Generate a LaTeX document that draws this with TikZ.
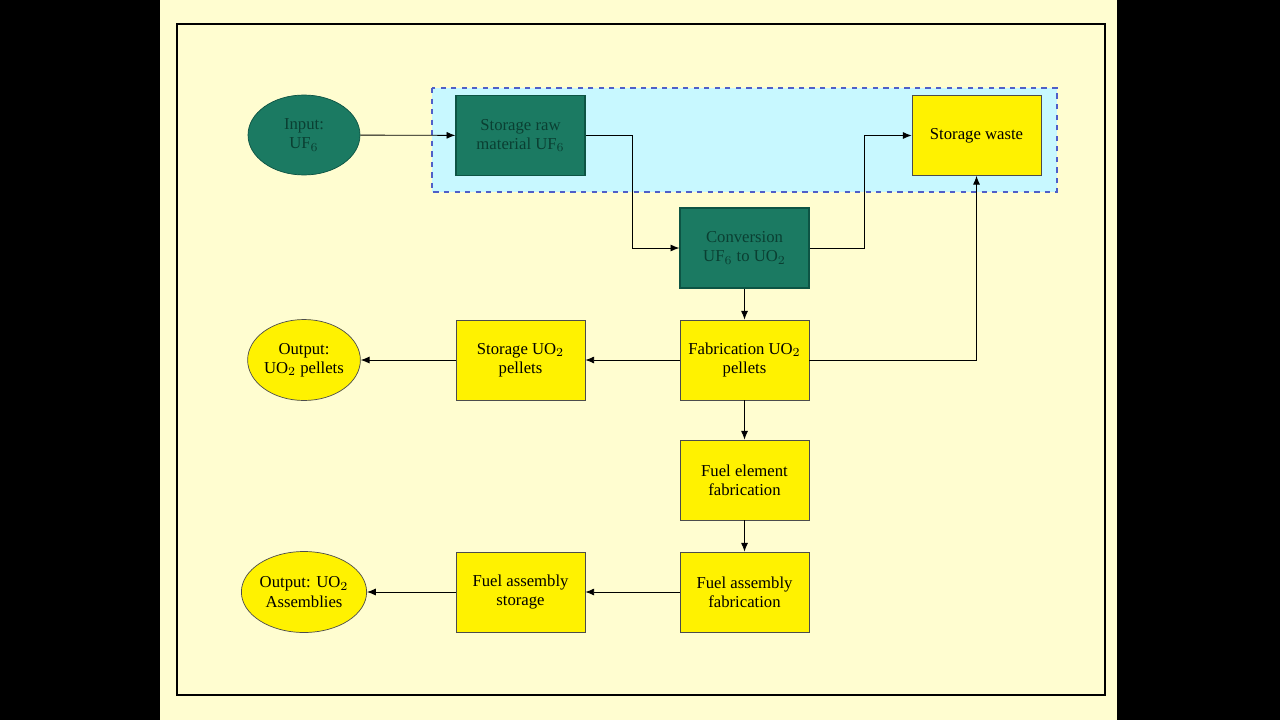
\documentclass[tikz,border=0pt]{standalone}
\usepackage{fontspec}
\setmainfont{Liberation Serif}
\usetikzlibrary{shapes.geometric,arrows.meta}
\definecolor{cream}{HTML}{FFFDD0}
\definecolor{dgreen}{HTML}{1B7A62}
\definecolor{dgborder}{HTML}{0D5444}
\definecolor{dgtext}{HTML}{0A3F32}
\definecolor{cyanbg}{HTML}{C8F8FF}
\definecolor{dashblue}{HTML}{4F5FC8}
\begin{document}
\begin{tikzpicture}[x=0.02cm,y=-0.02cm,
  every node/.style={font=\fontsize{9.5}{11}\selectfont, align=center},
  ybox/.style={draw=black!70, fill=yellow, minimum width=2.58cm, minimum height=1.6cm, inner sep=1pt},
  gbox/.style={draw=dgborder, line width=0.8pt, fill=dgreen, text=dgtext, minimum width=2.58cm, minimum height=1.6cm, inner sep=1pt},
  yell/.style={ellipse, draw=black!70, fill=yellow, minimum width=2.24cm, minimum height=1.62cm, inner sep=0pt},
  gell/.style={ellipse, draw=dgborder, fill=dgreen, text=dgtext, minimum width=2.24cm, minimum height=1.6cm, inner sep=0pt},
  arr/.style={-{Latex[length=5pt,width=4pt]}, line width=0.5pt}]
\useasboundingbox (0,0) rectangle (1280,720);
\fill[black] (0,0) rectangle (1280,720);
\fill[cream] (160,0) rectangle (1117,720);
\draw[line width=0.8pt] (177,24) rectangle (1105,695);
\draw[dashblue, fill=cyanbg, dashed, line width=0.8pt] (432,88) rectangle (1057,192);

\node[gell] (in) at (304,135) {Input:\\UF$_6$};
\node[gbox] (sraw) at (520.5,135.5) {Storage raw\\material UF$_6$};
\node[ybox] (waste) at (976.5,135.5) {Storage waste};
\node[gbox] (conv) at (744.5,248) {Conversion\\UF$_6$ to UO$_2$};
\node[ybox] (fab) at (744.5,360) {Fabrication UO$_2$\\pellets};
\node[ybox] (spel) at (520.5,360) {Storage UO$_2$\\pellets};
\node[yell] (opel) at (304,360) {Output:\\UO$_2$ pellets};
\node[ybox] (fel) at (744.5,480) {Fuel element\\fabrication};
\node[ybox] (faf) at (744.5,592) {Fuel assembly\\fabrication};
\node[ybox] (fas) at (520.5,592) {Fuel assembly\\storage};
\node[yell] (oas) at (304,592) {Output: UO$_2$\\Assemblies};

\coordinate (c1) at (632,135.5);
\coordinate (c2) at (632,248);
\coordinate (c3) at (864,248);
\coordinate (c4) at (864,135.5);
\coordinate (c5) at (976.5,360);

\draw[arr] (in) -- (sraw);
\draw[arr] (sraw.east) -- (c1) -- (c2) -- (conv.west);
\draw[arr] (conv.east) -- (c3) -- (c4) -- (waste.west);
\draw[arr] (conv) -- (fab);
\draw[arr] (fab.east) -- (c5) -- (waste.south);
\draw[arr] (fab) -- (spel);
\draw[arr] (spel) -- (opel);
\draw[arr] (fab) -- (fel);
\draw[arr] (fel) -- (faf);
\draw[arr] (faf) -- (fas);
\draw[arr] (fas) -- (oas);
\end{tikzpicture}
\end{document}
